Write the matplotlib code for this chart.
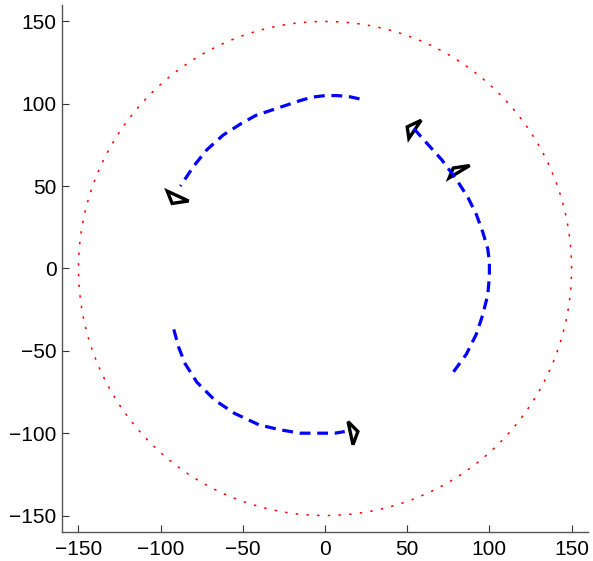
import matplotlib
matplotlib.use("Agg")
import matplotlib.pyplot as plt
from matplotlib.patches import Polygon
import numpy as np

# outer boundary circle
r_outer = 150

# blue dashed paths (x, y)
path1_x = [21, 14, 7, 0, -8, -15, -24, -33, -42, -51, -62, -72, -80, -88]
path1_y = [103, 104.5, 105, 105, 104, 102, 99, 96, 93, 88, 81, 72, 62, 50]

path2_x = [54, 62, 71, 80, 87, 92, 96, 99, 100, 100, 99, 96, 92, 86, 78]
path2_y = [85, 76, 66, 54, 43, 33, 22, 12, 4, -5, -16, -28, -40, -52, -63]

path3_x = [-92, -89, -85, -78, -67, -55, -40, -27, -15, -4, 6, 12]
path3_y = [-37, -48, -58, -69, -80, -88, -95, -98, -100, -100, -100, -99]

# black arrow heads (triangle vertices)
tri1 = [(-96, 47), (-83, 41), (-93, 39.5)]
tri2 = [(50, 86), (58.5, 90), (51, 79)]
tri3 = [(78, 61), (88, 62.5), (75.5, 55)]
tri4 = [(14, -93), (20, -99), (17, -107)]

tick_vals = [-150, -100, -50, 0, 50, 100, 150]
tick_text = ["\u2212150", "\u2212100", "\u221250", "0", "50", "100", "150"]

fig = plt.figure(figsize=(5.93, 5.61), dpi=100)
ax = fig.add_axes([0.1046, 0.0517, 0.887, 0.9394])

t = np.linspace(0, 2 * np.pi, 400)
ax.plot(r_outer * np.cos(t), r_outer * np.sin(t), color="red",
        linestyle=(0, (1.6, 5.4)), linewidth=1.1)

for px, py in [(path1_x, path1_y), (path2_x, path2_y), (path3_x, path3_y)]:
    ax.plot(px, py, color="blue", linestyle=(0, (3.4, 2.1)), linewidth=2.3)

for tri in [tri1, tri2, tri3, tri4]:
    ax.add_patch(Polygon(tri, closed=True, fill=False, edgecolor="black",
                         linewidth=2.4, joinstyle="miter"))

ax.set_xlim(-160, 160)
ax.set_ylim(-160, 160)
ax.set_xticks(tick_vals)
ax.set_yticks(tick_vals)
ax.set_xticklabels(tick_text)
ax.set_yticklabels(tick_text)
ax.spines["top"].set_visible(False)
ax.spines["right"].set_visible(False)
for s in ["left", "bottom"]:
    ax.spines[s].set_color("#555555")
    ax.spines[s].set_linewidth(1)
ax.tick_params(direction="in", length=5, width=0.8, color="#333333",
               labelsize=15)
ax.tick_params(axis="x", pad=6)
ax.tick_params(axis="y", pad=4)
for lab in ax.get_xticklabels() + ax.get_yticklabels():
    lab.set_fontfamily("Liberation Sans")

fig.savefig("out.png", dpi=100)
